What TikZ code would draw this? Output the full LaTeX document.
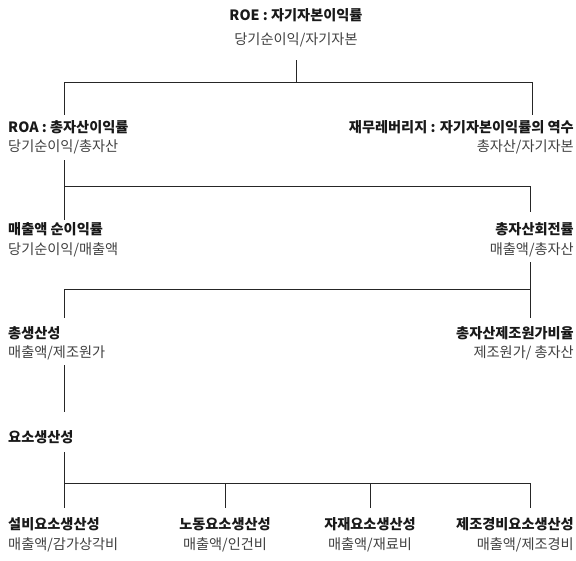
\documentclass[tikz,border=0pt]{standalone}
\usepackage{fontspec}
\setmainfont{Noto Sans CJK KR}
\begin{document}
\begin{tikzpicture}[x=1pt,y=-1pt,
  ttl/.style={inner sep=0pt,font=\fontsize{14.2}{16}\selectfont\bfseries,text=black!90},
  fml/.style={inner sep=0pt,font=\fontsize{14.2}{16}\selectfont,text=black!75},
  conn/.style={draw=black!85,line width=0.9pt}]
\useasboundingbox (0,0) rectangle (576,560);
% level 0
\node[ttl] (roe) at (296,15) {ROE : 자기자본이익률};
\node[fml] (roef) at (296,40) {당기순이익/자기자본};
% level 1
\node[ttl,anchor=west] (roa) at (8,127) {ROA : 총자산이익률};
\node[fml,anchor=west] (roaf) at (8,147) {당기순이익/총자산};
\node[ttl,anchor=east] (lev) at (574,127) {재무레버리지 : 자기자본이익률의 역수};
\node[fml,anchor=east] (levf) at (574,147) {총자산/자기자본};
% level 2
\node[ttl,anchor=west] (npm) at (8,229) {매출액 순이익률};
\node[fml,anchor=west] (npmf) at (8,250) {당기순이익/매출액};
\node[ttl,anchor=east] (tat) at (574,229) {총자산회전률};
\node[fml,anchor=east] (tatf) at (574,250) {매출액/총자산};
% level 3
\node[ttl,anchor=west] (tp) at (8,333) {총생산성};
\node[fml,anchor=west] (tpf) at (8,353) {매출액/제조원가};
\node[ttl,anchor=east] (tcr) at (574,333) {총자산제조원가비율};
\node[fml,anchor=east] (tcrf) at (574,353) {제조원가/ 총자산};
% level 4
\node[ttl,anchor=west] (fp) at (8,437) {요소생산성};
% level 5
\node[ttl,anchor=west] (eq) at (8,524) {설비요소생산성};
\node[fml,anchor=west] (eqf) at (8,545) {매출액/감가상각비};
\node[ttl] (lab) at (225,524) {노동요소생산성};
\node[fml] (labf) at (225,545) {매출액/인건비};
\node[ttl] (mat) at (370,524) {자재요소생산성};
\node[fml] (matf) at (370,545) {매출액/재료비};
\node[ttl,anchor=east] (mfg) at (574,524) {제조경비요소생산성};
\node[fml,anchor=east] (mfgf) at (574,545) {매출액/제조경비};
% junction coordinates
\coordinate (j0) at (296,82);
\coordinate (j0l) at (64,82);
\coordinate (j0r) at (532,82);
\coordinate (j1) at (64,186);
\coordinate (j1r) at (530,186);
\coordinate (j2) at (530,289);
\coordinate (j2l) at (64,289);
\coordinate (j4) at (64,483);
\coordinate (j4r) at (530,483);
% connectors
\draw[conn] (296,60) -- (j0);
\draw[conn] (j0l) -- (j0r);
\draw[conn] (j0l) -- (64,115);
\draw[conn] (j0r) -- (532,115);
\draw[conn] (64,160) -- (64,220);
\draw[conn] (j1) -- (j1r) -- (530,212);
\draw[conn] (530,262) -- (530,318);
\draw[conn] (j2l) -- (j2);
\draw[conn] (j2l) -- (64,318);
\draw[conn] (64,365) -- (64,412);
\draw[conn] (64,452) -- (64,508);
\draw[conn] (j4) -- (j4r) -- (530,508);
\draw[conn] (225,483) -- (225,508);
\draw[conn] (370,483) -- (370,508);
\end{tikzpicture}
\end{document}
